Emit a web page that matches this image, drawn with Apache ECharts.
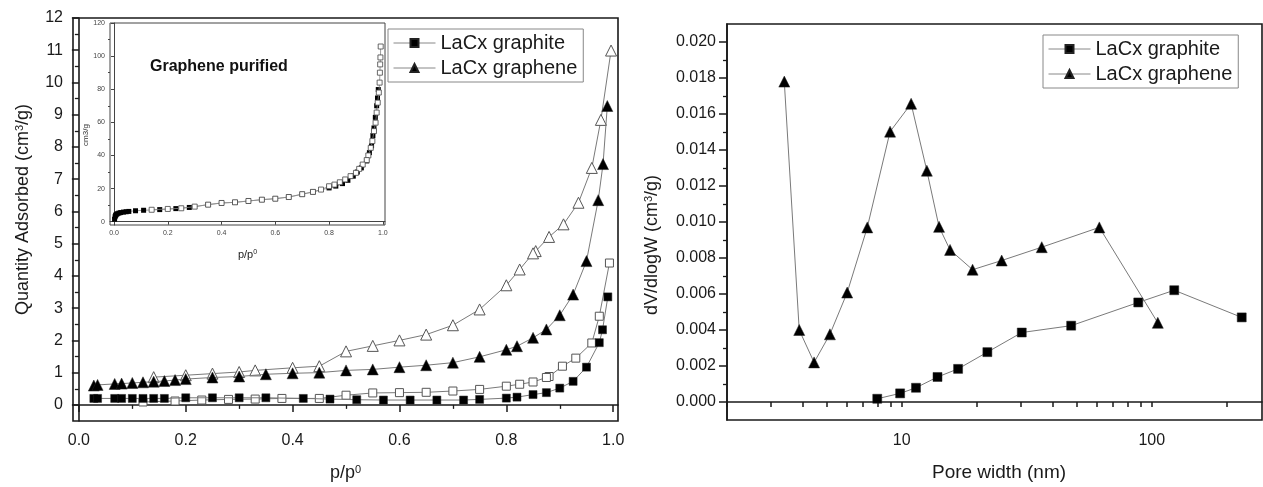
<!DOCTYPE html>
<html>
<head>
<meta charset="utf-8">
<script src="https://cdn.jsdelivr.net/npm/echarts@6/dist/echarts.min.js"></script>
<style>
html,body{margin:0;padding:0;background:#fff;}
#chart{width:1263px;height:487px;}
</style>
</head>
<body>
<div id="chart"></div>
<script>
// ---- Left main chart: isotherms ----
const pGraphiteAds = [0.028,0.035,0.067,0.08,0.1,0.12,0.14,0.16,0.2,0.25,0.3,0.35,0.42,0.47,0.52,0.57,0.62,0.67,0.72,0.75,0.8,0.82,0.85,0.875,0.9,0.925,0.95,0.974,0.98,0.99];
const qGraphiteAds = [0.2,0.2,0.2,0.2,0.2,0.2,0.2,0.2,0.22,0.22,0.22,0.22,0.2,0.18,0.16,0.15,0.15,0.15,0.15,0.17,0.21,0.24,0.32,0.38,0.52,0.73,1.17,1.93,2.33,3.35];
const pGraphiteDes = [0.993,0.974,0.96,0.93,0.905,0.88,0.875,0.85,0.825,0.8,0.75,0.7,0.65,0.6,0.55,0.5,0.45,0.38,0.33,0.28,0.23,0.18,0.12];
const qGraphiteDes = [4.4,2.75,1.92,1.45,1.2,0.88,0.85,0.71,0.64,0.58,0.48,0.43,0.39,0.38,0.37,0.3,0.2,0.2,0.18,0.17,0.15,0.12,0.09];
const pGrapheneAds = [0.028,0.035,0.067,0.08,0.1,0.12,0.14,0.16,0.18,0.2,0.25,0.3,0.35,0.4,0.45,0.5,0.55,0.6,0.65,0.7,0.75,0.8,0.82,0.85,0.875,0.9,0.925,0.95,0.972,0.981,0.989];
const qGrapheneAds = [0.6,0.62,0.65,0.66,0.68,0.7,0.72,0.74,0.77,0.8,0.85,0.88,0.95,0.98,1.0,1.07,1.1,1.17,1.23,1.31,1.49,1.71,1.82,2.08,2.34,2.78,3.42,4.46,6.35,7.47,9.27];
const pGrapheneDes = [0.996,0.977,0.96,0.935,0.907,0.88,0.855,0.85,0.825,0.8,0.75,0.7,0.65,0.6,0.55,0.5,0.45,0.4,0.33,0.3,0.25,0.2,0.14];
const qGrapheneDes = [10.99,8.84,7.35,6.27,5.6,5.21,4.77,4.7,4.2,3.71,2.96,2.47,2.18,2.0,1.83,1.66,1.2,1.15,1.07,1.02,0.97,0.92,0.86];

// ---- Inset: Graphene purified (cm3/g) ----
const pInsetAds = [0.002,0.004,0.006,0.008,0.012,0.018,0.025,0.035,0.045,0.055,0.08,0.11,0.17,0.23,0.28,0.35,0.4,0.45,0.5,0.55,0.6,0.65,0.7,0.74,0.8,0.825,0.85,0.87,0.89,0.905,0.92,0.94,0.95,0.958,0.963,0.967,0.972,0.977,0.98,0.983];
const qInsetAds = [1.5,3.0,3.8,4.3,4.8,5.2,5.5,5.8,6.0,6.2,6.6,6.9,7.3,7.9,8.6,10.3,11.3,11.7,12.5,13.3,13.9,14.9,16.6,18,20.4,21.5,23,25,27.5,30,32.5,36.7,41.7,45.8,52,56.6,63,70,74.7,79.8];
const pInsetDes = [0.992,0.991,0.99,0.989,0.988,0.985,0.981,0.977,0.973,0.967,0.961,0.955,0.946,0.94,0.925,0.912,0.9,0.88,0.86,0.84,0.82,0.8,0.77,0.74,0.7,0.65,0.6,0.55,0.5,0.45,0.4,0.35,0.3,0.25,0.2,0.14];
const qInsetDes = [105.8,99.2,95,90,84,78,71.9,65.9,59.8,54.7,48.7,44.6,40,37.2,34.5,31.9,29.5,27.5,25.5,23.8,22.4,21.4,19.4,18,16.6,14.9,13.9,13.3,12.5,11.7,11.3,10.3,9.1,8.1,7.7,7.2];

// ---- Right chart: pore size distribution ----
const poreGraphite = [7.98,9.85,11.4,13.9,16.8,22.0,30.2,47.6,88.3,123,229];
const dvGraphite = [0.00018,0.00048,0.00079,0.00139,0.00184,0.00277,0.00386,0.00424,0.00553,0.00621,0.0047];
const poreGraphene = [3.39,3.89,4.46,5.16,6.05,7.28,8.98,10.9,12.6,14.1,15.6,19.2,25.1,36.3,61.7,105.7];
const dvGraphene = [0.0178,0.0040,0.0022,0.00376,0.00608,0.0097,0.01502,0.01657,0.01285,0.00973,0.00845,0.00735,0.00786,0.0086,0.0097,0.0044];

// ---- tick labels ----
const leftXTicks = [0,0.2,0.4,0.6,0.8,1.0];
const leftXMinor = [0.1,0.3,0.5,0.7,0.9];
const leftYTicks = [0,1,2,3,4,5,6,7,8,9,10,11,12];
const leftYMinor = [0.5,1.5,2.5,3.5,4.5,5.5,6.5,7.5,8.5,9.5,10.5,11.5];
const insetXTicks = [0,0.2,0.4,0.6,0.8,1.0];
const insetYTicks = [0,20,40,60,80,100,120];
const insetYMinor = [10,30,50,70,90,110];
const rightXLabels = [10,100];
const rightXTicks = [2,3,4,5,6,7,8,9,10,20,30,40,50,60,70,80,90,100,200];
const rightYTicks = [0,0.002,0.004,0.006,0.008,0.010,0.012,0.014,0.016,0.018,0.020];
const rightYMinor = [0.001,0.003,0.005,0.007,0.009,0.011,0.013,0.015,0.017,0.019];
const legendNames = ['LaCx graphite','LaCx graphene'];

const fam = '"Liberation Sans", Arial, sans-serif';
const ink = '#1a1a1a';
const zip = (a,b) => a.map((v,i)=>[v,b[i]]);

function majorAxis(o){
  return Object.assign({
    type:'value', scale:false,
    axisLine:{show:true,lineStyle:{color:ink,width:1.6}},
    splitLine:{show:false},
    axisTick:{show:true,inside:false,length:7,lineStyle:{color:ink,width:1.5}},
    axisLabel:{color:ink,fontFamily:fam,fontSize:16},
    nameTextStyle:{color:ink,fontFamily:fam,fontSize:18,rich:{sup:{fontFamily:fam,fontSize:11,color:ink,verticalAlign:'top'}}}
  }, o);
}
function minorAxis(o){
  return Object.assign({
    type:'value',
    axisLine:{show:false},
    splitLine:{show:false},
    axisLabel:{show:false},
    axisTick:{show:true,inside:false,length:4,lineStyle:{color:ink,width:1.3}}
  }, o);
}

const filledSq = {color:'#000',borderColor:'#222',borderWidth:0.5};
const openSym = {color:'#fff',borderColor:'#555',borderWidth:1};
const lineSt = {color:'#7a7a7a',width:1};

function legendAt(left, top){
  return {data:legendNames,orient:'vertical',left:left,top:top,padding:[4,6,4,5],itemGap:5,itemWidth:42,itemHeight:10,
    borderColor:'#888',borderWidth:1,backgroundColor:'#fff',
    lineStyle:{color:'#888',width:1},
    textStyle:{fontFamily:fam,fontSize:20,color:ink},selectedMode:false};
}

const option = {
  animation:false,
  backgroundColor:'#fff',
  title:{text:'Graphene purified',left:150,top:59,padding:0,
    textStyle:{fontFamily:fam,fontWeight:'bold',fontSize:16,color:'#111'}},
  grid:[
    {left:73,top:18,width:545,height:403,show:true,borderColor:ink,borderWidth:1.6,backgroundColor:'transparent',containLabel:false},
    {left:110,top:23,width:275,height:202,show:true,borderColor:'#444',borderWidth:1,backgroundColor:'#fff',containLabel:false},
    {left:727,top:24,width:535,height:400,show:true,borderColor:ink,borderWidth:1.6,backgroundColor:'transparent',containLabel:false}
  ],
  legend:[legendAt(388,29), legendAt(1043,35)],
  xAxis:[
    majorAxis({gridIndex:0,min:-0.011,max:1.009,position:'bottom',
      axisTick:{show:true,length:7,lineStyle:{color:ink,width:1.5},customValues:leftXTicks},
      axisLabel:{color:ink,fontFamily:fam,fontSize:16,margin:12,customValues:leftXTicks,formatter:v=>v.toFixed(1)},
      name:'p/p{sup|0}',nameLocation:'middle',nameGap:43}),
    minorAxis({gridIndex:0,min:-0.011,max:1.009,position:'bottom',
      axisTick:{show:true,length:4,lineStyle:{color:ink,width:1.3},customValues:leftXMinor}}),
    majorAxis({gridIndex:1,min:-0.015,max:1.008,position:'bottom',
      axisLine:{show:true,lineStyle:{color:'#444',width:1}},
      axisTick:{show:true,length:3,lineStyle:{color:'#444',width:1},customValues:insetXTicks},
      axisLabel:{color:'#444',fontFamily:fam,fontSize:7,margin:5,customValues:insetXTicks,formatter:v=>v.toFixed(1)},
      name:'p/p{sup|0}',nameLocation:'middle',nameGap:24,
      nameTextStyle:{color:'#222',fontFamily:fam,fontSize:11,rich:{sup:{fontFamily:fam,fontSize:7,color:'#222',verticalAlign:'top'}}}}),
    majorAxis({gridIndex:2,type:'log',logBase:10,min:2,max:276,position:'bottom',
      axisTick:{show:true,length:5,lineStyle:{color:ink,width:1.5},customValues:rightXTicks},
      axisLabel:{color:ink,fontFamily:fam,fontSize:16,margin:13,customValues:rightXLabels,formatter:v=>String(Math.round(v))},
      name:'Pore width (nm)',nameLocation:'middle',nameGap:43,
      nameTextStyle:{color:ink,fontFamily:fam,fontSize:19,padding:[0,0,0,9]}})
  ],
  yAxis:[
    majorAxis({gridIndex:0,min:-0.5,max:12,position:'left',
      axisTick:{show:true,length:7,lineStyle:{color:ink,width:1.5},customValues:leftYTicks},
      axisLabel:{color:ink,fontFamily:fam,fontSize:16,margin:10,customValues:leftYTicks},
      name:'Quantity Adsorbed (cm{sup|3}/g)',nameLocation:'middle',nameGap:41,
      nameTextStyle:{color:ink,fontFamily:fam,fontSize:18,padding:[0,0,0,20],rich:{sup:{fontFamily:fam,fontSize:11,color:ink,verticalAlign:'top'}}}}),
    minorAxis({gridIndex:0,min:-0.5,max:12,position:'left',
      axisTick:{show:true,length:4,lineStyle:{color:ink,width:1.3},customValues:leftYMinor}}),
    majorAxis({gridIndex:1,min:-2,max:120,position:'left',
      axisLine:{show:true,lineStyle:{color:'#444',width:1}},
      axisTick:{show:true,length:3,lineStyle:{color:'#444',width:1},customValues:insetYTicks},
      axisLabel:{color:'#444',fontFamily:fam,fontSize:7,margin:5,customValues:insetYTicks},
      name:'cm3/g',nameLocation:'middle',nameGap:17,
      nameTextStyle:{color:'#333',fontFamily:fam,fontSize:8,padding:[0,22,0,0]}}),
    minorAxis({gridIndex:1,min:-2,max:120,position:'left',
      axisTick:{show:true,length:2,lineStyle:{color:'#444',width:1},customValues:insetYMinor}}),
    majorAxis({gridIndex:2,min:-0.001,max:0.021,position:'left',
      axisTick:{show:true,length:8,lineStyle:{color:ink,width:1.5},customValues:rightYTicks},
      axisLabel:{color:ink,fontFamily:fam,fontSize:16,margin:11,customValues:rightYTicks,formatter:v=>v.toFixed(3)},
      name:'dV/dlogW (cm{sup|3}/g)',nameLocation:'middle',nameGap:66,
      nameTextStyle:{color:ink,fontFamily:fam,fontSize:18,padding:[0,46,0,0],rich:{sup:{fontFamily:fam,fontSize:11,color:ink,verticalAlign:'top'}}}}),
    minorAxis({gridIndex:2,min:-0.001,max:0.021,position:'left',
      axisTick:{show:true,length:4,lineStyle:{color:ink,width:1.3},customValues:rightYMinor}})
  ],
  series:[
    {name:'LaCx graphite',type:'line',xAxisIndex:0,yAxisIndex:0,data:zip(pGraphiteAds,qGraphiteAds),
     symbol:'rect',symbolSize:8,itemStyle:filledSq,lineStyle:lineSt,z:3},
    {name:'LaCx graphite (desorption)',type:'line',xAxisIndex:0,yAxisIndex:0,data:zip(pGraphiteDes,qGraphiteDes),
     symbol:'rect',symbolSize:8,itemStyle:openSym,lineStyle:lineSt,z:2},
    {name:'LaCx graphene',type:'line',xAxisIndex:0,yAxisIndex:0,data:zip(pGrapheneAds,qGrapheneAds),
     symbol:'triangle',symbolSize:11,itemStyle:filledSq,lineStyle:lineSt,z:3},
    {name:'LaCx graphene (desorption)',type:'line',xAxisIndex:0,yAxisIndex:0,data:zip(pGrapheneDes,qGrapheneDes),
     symbol:'triangle',symbolSize:11,itemStyle:openSym,lineStyle:lineSt,z:2},
    {name:'Graphene purified (adsorption)',type:'line',xAxisIndex:2,yAxisIndex:2,data:zip(pInsetAds,qInsetAds),
     symbol:'rect',symbolSize:5,itemStyle:{color:'#000',borderColor:'#000',borderWidth:0},lineStyle:{color:'#888',width:0.8},z:3},
    {name:'Graphene purified (desorption)',type:'line',xAxisIndex:2,yAxisIndex:2,data:zip(pInsetDes,qInsetDes),
     symbol:'rect',symbolSize:5,itemStyle:{color:'#fff',borderColor:'#444',borderWidth:0.8},lineStyle:{color:'#888',width:0.8},z:4},
    {name:'LaCx graphite',type:'line',xAxisIndex:3,yAxisIndex:4,data:zip(poreGraphite,dvGraphite),
     symbol:'rect',symbolSize:9,itemStyle:filledSq,lineStyle:lineSt,z:3},
    {name:'LaCx graphene',type:'line',xAxisIndex:3,yAxisIndex:4,data:zip(poreGraphene,dvGraphene),
     symbol:'triangle',symbolSize:11,itemStyle:filledSq,lineStyle:lineSt,z:3}
  ]
};
const chart = echarts.init(document.getElementById('chart'),null,{renderer:'canvas'});
chart.setOption(option);
</script>
</body>
</html>
